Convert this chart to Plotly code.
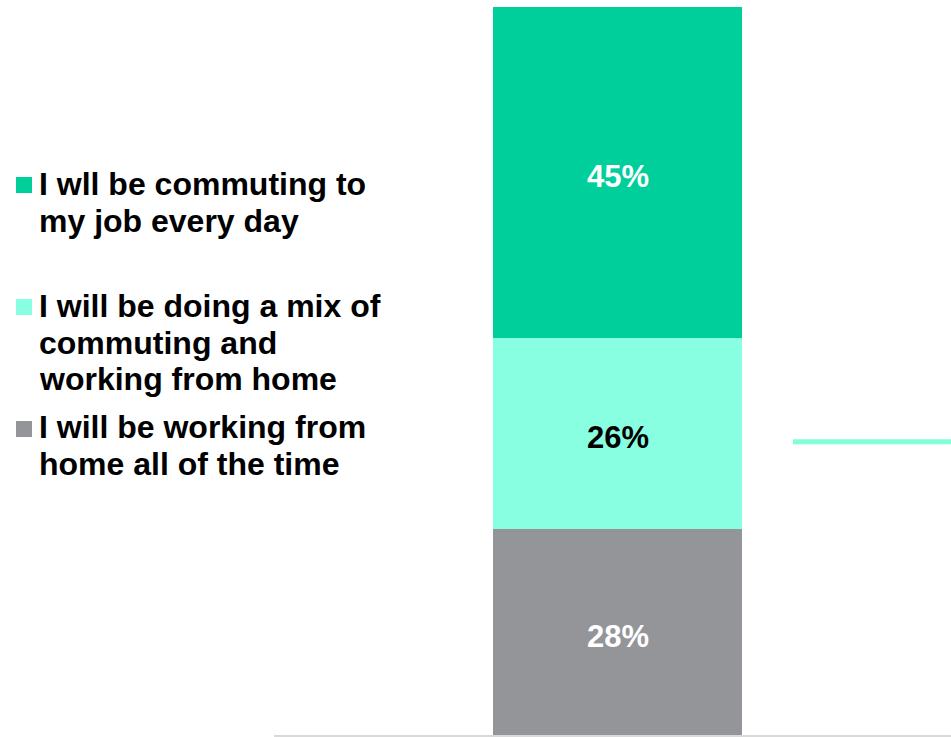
import plotly.graph_objects as go

# Survey answers, stacked from bottom to top
series_names = [
    "I will be working from<br>home all of the time",
    "I will be doing a mix of<br>commuting and<br>working from home",
    "I wll be commuting to<br>my job every day",
]
series_values = [28, 26, 45]
series_colors = ["#939598", "#88FFE0", "#00CF9C"]
label_colors = ["#FFFFFF", "#000000", "#FFFFFF"]
category = [0]

# Reference marker level drawn to the right of the bar
marker_level = 39.9

W, H = 951, 737
FONT = "Liberation Sans, Arial, sans-serif"

fig = go.Figure()
base = 0
for name, val, col, lcol in zip(series_names, series_values, series_colors, label_colors):
    fig.add_trace(go.Bar(
        x=category, y=[val], name=name.replace("<br>", " "),
        marker=dict(color=col, line=dict(width=0)),
        width=0.368,
        showlegend=False, hoverinfo="skip",
    ))
    # value label centred in its segment
    fig.add_annotation(
        x=category[0], y=base + val / 2, xref="x", yref="y",
        text=f"{val}%", showarrow=False, yshift=-4,
        font=dict(family=FONT, size=31, color=lcol, weight="bold"),
    )
    base += val

x0_px = 274
fig.update_layout(
    width=W, height=H, margin=dict(l=0, r=0, t=0, b=0),
    paper_bgcolor="white", plot_bgcolor="white",
    barmode="stack", bargap=0,
    xaxis=dict(domain=[x0_px / W, 1], range=[-0.5074, 0.4926],
               showgrid=False, zeroline=False, showticklabels=False, ticks="",
               showline=True, linecolor="#D9D9D9", linewidth=2),
    yaxis=dict(domain=[2 / H, 1], range=[0, 100], visible=False, fixedrange=True),
)

# Horizontal marker line
fig.add_shape(type="line", xref="paper", yref="y",
              x0=793 / W, x1=1, y0=marker_level, y1=marker_level,
              line=dict(color="#80FFD8", width=5))

# Custom legend: square swatch + multi-line bold label, top entry first
entry_first_baseline = [195, 317, 438]
line_step = 36.7
swatch_centers = [185, 307, 429]
for i, idx in enumerate([2, 1, 0]):
    cy = swatch_centers[i]
    fig.add_shape(type="rect", xref="paper", yref="paper",
                  x0=16 / W, x1=32 / W, y0=1 - (cy + 8) / H, y1=1 - (cy - 8) / H,
                  fillcolor=series_colors[idx], line=dict(width=0))
    for j, line in enumerate(series_names[idx].split("<br>")):
        b = entry_first_baseline[i] + j * line_step
        fig.add_annotation(
            xref="paper", yref="paper", x=37 / W, y=1 - (b - 11) / H,
            xanchor="left", yanchor="middle", showarrow=False, text=line,
            font=dict(family=FONT, size=32, color="#000000", weight="bold"),
        )

fig.write_html("out.html")
